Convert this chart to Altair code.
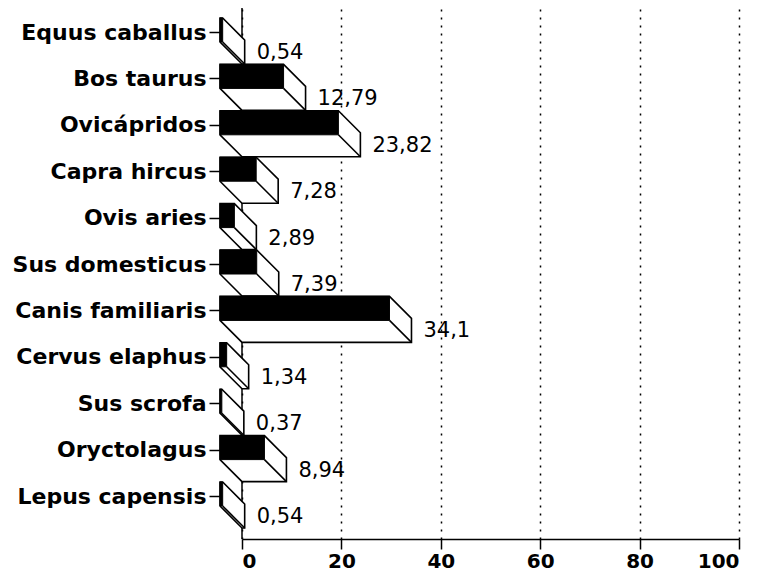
import json
import altair as alt
import pandas as pd

categories = ["Equus caballus", "Bos taurus", "Ovicápridos", "Capra hircus", "Ovis aries",
              "Sus domesticus", "Canis familiaris", "Cervus elaphus", "Sus scrofa",
              "Oryctolagus", "Lepus capensis"]
values = [0.54, 12.79, 23.82, 7.28, 2.89, 7.39, 34.1, 1.34, 0.37, 8.94, 0.54]
value_labels = ["0,54", "12,79", "23,82", "7,28", "2,89", "7,39", "34,1", "1,34", "0,37", "8,94", "0,54"]
x_ticks = [0, 20, 40, 60, 80, 100]

# layout (pixels)
W, HGT = 497, 531
X_DOMAIN = [0, 100]
SLOT_PX = 46.4
PX_PER_X = W / (X_DOMAIN[1] - X_DOMAIN[0])
DEPTH_PX = 22
BAR_PX = 24

DX = DEPTH_PX / PX_PER_X      # depth in value units
DY = DEPTH_PX / SLOT_PX       # depth in slot units
BH = BAR_PX / SLOT_PX         # bar height in slot units
Y0 = -10 / SLOT_PX
Y_DOMAIN = [Y0, Y0 + HGT / SLOT_PX]
TICK_POS = 14 / SLOT_PX


def upper(i, v, x):
    if x <= v - DX:
        return i
    return i + (x - (v - DX)) / DX * DY


def lower(i, v, x):
    if x <= 0:
        return i + BH + (x + DX) / DX * DY
    return i + BH + DY


hex_rows, front_rows, edge_rows, text_rows = [], [], [], []
for i, (c, v, lab) in enumerate(zip(categories, values, value_labels)):
    xs = sorted({-DX, 0.0, v - DX, v})
    for x in xs:
        hex_rows.append({"cat": c, "x": x, "y": upper(i, v, x), "y2": lower(i, v, x)})
    front_rows.append({"cat": c, "x": -DX, "x2": v - DX, "y": i, "y2": i + BH})
    edge_rows.append({"cat": c, "x": v - DX, "x2": v, "y": i + BH, "y2": i + BH + DY})
    text_rows.append({"cat": c, "x": v, "y": i + DY + BH / 2, "label": lab})

xscale = alt.Scale(domain=X_DOMAIN, nice=False, zero=False)
yscale = alt.Scale(domain=Y_DOMAIN, reverse=True, nice=False, zero=False)

label_expr = json.dumps(categories, ensure_ascii=False) + "[round(datum.value)]"

x_axis = alt.Axis(values=x_ticks, title=None, grid=True, gridDash=[2, 6], gridColor="black",
                  gridWidth=1.5, gridOpacity=1, domainColor="black", domainWidth=1.5,
                  tickColor="black", tickWidth=1.5, tickSize=10, labelFont="DejaVu Sans",
                  labelFontWeight="bold", labelFontSize=20, labelColor="black", labelPadding=2)
y_axis = alt.Axis(values=[i + TICK_POS for i in range(len(categories))], labelExpr=label_expr,
                  title=None, grid=False, domain=False, offset=DEPTH_PX, tickColor="black",
                  tickWidth=1.5, tickSize=11, labelFont="DejaVu Sans", labelFontWeight="bold",
                  labelFontSize=22, labelColor="black", labelPadding=3, labelLimit=400)


def X(field="x"):
    return alt.X(f"{field}:Q", scale=xscale, axis=x_axis)


def Y(field="y"):
    return alt.Y(f"{field}:Q", scale=yscale, axis=y_axis)


wall = alt.Chart(pd.DataFrame({"x": [0]})).mark_rule(color="black", strokeWidth=1.5).encode(
    x=X()
)

hexes = alt.Chart(pd.DataFrame(hex_rows)).mark_area(
    fill="white", stroke="black", strokeWidth=1.6, opacity=1, strokeJoin="miter"
).encode(
    x=X(), y=Y(), y2="y2:Q", detail="cat:N",
)

fronts = alt.Chart(pd.DataFrame(front_rows)).mark_rect(
    fill="black", stroke="black", strokeWidth=1
).encode(
    x=X(), x2="x2:Q", y=Y(), y2="y2:Q",
)

edges = alt.Chart(pd.DataFrame(edge_rows)).mark_rule(color="black", strokeWidth=1.6).encode(
    x=X(), x2="x2:Q", y=Y(), y2="y2:Q",
)

texts = alt.Chart(pd.DataFrame(text_rows)).mark_text(
    align="left", baseline="middle", dx=12, dy=1, font="DejaVu Sans", fontSize=21, color="black"
).encode(
    x=X(), y=Y(), text="label:N",
)

chart = alt.layer(wall, hexes, fronts, edges, texts).properties(
    width=W, height=HGT,
    autosize=alt.AutoSizeParams(type="none"),
    padding={"left": 234, "top": 0, "right": 21, "bottom": 33},
    background="white",
).configure_view(stroke=None)

chart.save("out.html", embed_options={"renderer": "svg", "actions": False})
